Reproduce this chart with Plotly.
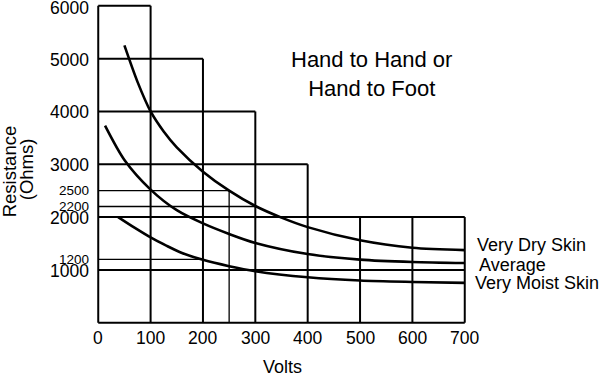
import plotly.graph_objects as go

# ---------------- data ----------------
dry_v = [50, 75, 100, 125, 150, 200, 250, 300, 350, 400, 500, 600, 700]
dry_r = [5250, 4560, 4000, 3620, 3320, 2860, 2500, 2210, 1990, 1810, 1560, 1420, 1375]

avg_v = [13, 50, 100, 150, 200, 250, 300, 400, 500, 600, 700]
avg_r = [3730, 3080, 2520, 2130, 1880, 1680, 1510, 1300, 1195, 1150, 1130]

moist_v = [38, 70, 100, 130, 160, 200, 250, 300, 400, 500, 600, 700]
moist_r = [2000, 1795, 1615, 1460, 1320, 1190, 1070, 975, 860, 798, 772, 755]

series_names = ["Very Dry Skin", "Average", "Very Moist Skin"]

# stepped grid: horizontal levels and how far they extend
h_levels = [6000, 5000, 4000, 3000, 2000, 1000]
h_extent = [100, 200, 300, 400, 700, 700]
# vertical lines and their heights
v_levels = [100, 200, 300, 400, 500, 600, 700]
v_extent = [6000, 5000, 4000, 3000, 2000, 2000, 2000]
# thin reference lines
ref_levels = [2500, 2200, 1200]
ref_extent = [250, 300, 195]
ref_v = [250]
ref_v_extent = [2500]

x_ticks = [0, 100, 200, 300, 400, 500, 600, 700]
y_ticks_big = [6000, 5000, 4000, 3000, 2000, 1000]
y_ticks_small = [2500, 2200, 1200]

FONT = "Liberation Sans, Arial, Helvetica, sans-serif"

fig = go.Figure()

shapes = []
def line(x0, y0, x1, y1, w):
    shapes.append(dict(type="line", xref="x", yref="y", x0=x0, y0=y0, x1=x1, y1=y1,
                       line=dict(color="black", width=w), layer="below"))

# axes frame lines
line(0, 0, 0, max(h_levels), 2)
line(0, 0, max(x_ticks), 0, 2)
for yv, xe in zip(h_levels, h_extent):
    line(0, yv, xe, yv, 2)
for xv, ye in zip(v_levels, v_extent):
    line(xv, 0, xv, ye, 2)
for yv, xe in zip(ref_levels, ref_extent):
    line(0, yv, xe, yv, 1.3)
for xv, ye in zip(ref_v, ref_v_extent):
    line(xv, 0, xv, ye, 1.3)

for vx, ry, nm in [(dry_v, dry_r, series_names[0]), (avg_v, avg_r, series_names[1]),
                   (moist_v, moist_r, series_names[2])]:
    fig.add_trace(go.Scatter(x=vx, y=ry, mode="lines", name=nm,
                             line=dict(color="black", width=2.6, shape="spline", smoothing=0.8),
                             showlegend=False, hoverinfo="skip"))

ann = []
for t in x_ticks:
    ann.append(dict(x=t, y=0, xref="x", yref="y", text=str(t), showarrow=False,
                    yshift=-15, xanchor="center", yanchor="middle",
                    font=dict(size=17.5, color="black", family=FONT)))
for t in y_ticks_big:
    ann.append(dict(x=0, y=t, xref="x", yref="y", text=str(t), showarrow=False,
                    xshift=-7, yshift=(-2 if t == max(y_ticks_big) else -1),
                    xanchor="right", yanchor="middle",
                    font=dict(size=17.5, color="black", family=FONT)))
for t in y_ticks_small:
    ann.append(dict(x=0, y=t, xref="x", yref="y", text=str(t), showarrow=False,
                    xshift=-7, xanchor="right", yanchor="middle",
                    font=dict(size=13.5, color="black", family=FONT)))

# series labels at right end (pixel positions)
ann.append(dict(x=475, y=245, text=series_names[0], showarrow=False,
                xanchor="left", yanchor="middle",
                font=dict(size=18, color="black", family=FONT)))
ann.append(dict(x=477, y=265, text=series_names[1], showarrow=False,
                xanchor="left", yanchor="middle",
                font=dict(size=18, color="black", family=FONT)))
ann.append(dict(x=473, y=283, text=series_names[2], showarrow=False,
                xanchor="left", yanchor="middle",
                font=dict(size=18, color="black", family=FONT)))

# title text
ann.append(dict(x=372, y=74, text="Hand to Hand or<br>Hand to Foot",
                showarrow=False, xanchor="center", yanchor="middle",
                font=dict(size=22, color="black", family=FONT)))

# axis titles
ann.append(dict(x=283, y=367, text="Volts", showarrow=False,
                xanchor="center", yanchor="middle",
                font=dict(size=18, color="black", family=FONT)))
ann.append(dict(x=10, y=171, text="Resistance", showarrow=False, textangle=-90,
                xanchor="center", yanchor="middle",
                font=dict(size=18.5, color="black", family=FONT)))
ann.append(dict(x=27, y=169, text="(Ohms)", showarrow=False, textangle=-90,
                xanchor="center", yanchor="middle",
                font=dict(size=18.5, color="black", family=FONT)))

# convert pixel-placed annotations to paper coords
W, H = 600, 376
L, R, T, B = 92.76, 129.74, 0, 47.9
pw, ph = W - L - R, H - T - B
for a in ann:
    if "xref" not in a:
        a["xref"] = "paper"; a["yref"] = "paper"
        a["x"] = (a["x"] - L) / pw
        a["y"] = (H - B - a["y"]) / ph

fig.update_layout(
    width=W, height=H,
    margin=dict(l=L, r=R, t=T, b=B, pad=0),
    paper_bgcolor="white", plot_bgcolor="white",
    xaxis=dict(range=[-10, 710], visible=False, fixedrange=True),
    yaxis=dict(range=[-100, 6110], visible=False, fixedrange=True),
    shapes=shapes, annotations=ann,
    font=dict(family=FONT, color="black"),
)

fig.write_html("out.html", config={"displayModeBar": False},
               post_script="document.body.style.margin='0';document.body.style.padding='0';")
